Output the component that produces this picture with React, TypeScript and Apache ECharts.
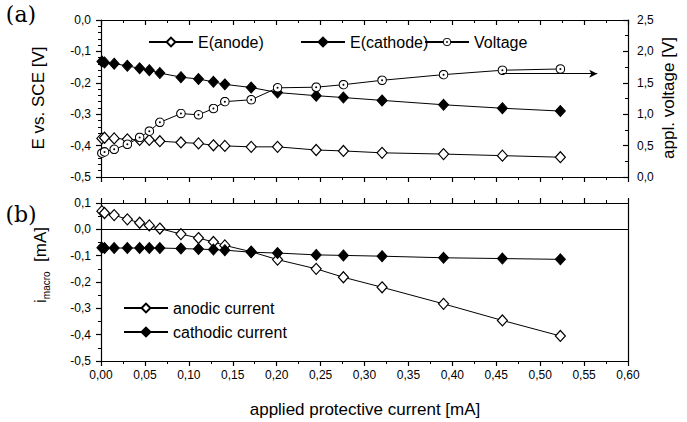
import React, { useEffect, useRef } from "react";
import * as echarts from "echarts";

// applied protective current [mA]
const current = [0.001, 0.004, 0.015, 0.030, 0.044, 0.055, 0.067, 0.091, 0.111, 0.128, 0.141, 0.171, 0.201, 0.245, 0.276, 0.320, 0.390, 0.457, 0.523];
// (a) potentials vs SCE [V]
const eAnode = [-0.377, -0.375, -0.377, -0.380, -0.382, -0.382, -0.386, -0.390, -0.393, -0.399, -0.401, -0.404, -0.404, -0.414, -0.417, -0.423, -0.427, -0.432, -0.437];
const eCathode = [-0.132, -0.135, -0.139, -0.146, -0.154, -0.160, -0.169, -0.182, -0.188, -0.197, -0.205, -0.215, -0.231, -0.241, -0.247, -0.256, -0.270, -0.281, -0.290];
// (a) applied voltage [V]
const voltage = [0.38, 0.40, 0.44, 0.52, 0.63, 0.73, 0.87, 1.01, 0.99, 1.09, 1.20, 1.23, 1.42, 1.43, 1.47, 1.54, 1.63, 1.70, 1.72];
// (b) macro currents [mA]
const anodic = [0.069, 0.062, 0.054, 0.038, 0.025, 0.015, 0.003, -0.018, -0.033, -0.048, -0.061, -0.085, -0.115, -0.150, -0.182, -0.220, -0.283, -0.346, -0.405];
const cathodic = [-0.070, -0.071, -0.071, -0.071, -0.071, -0.071, -0.071, -0.073, -0.075, -0.077, -0.079, -0.087, -0.090, -0.097, -0.099, -0.102, -0.108, -0.111, -0.114];
// arrow pointing to the voltage axis
const arrowX = [0.457, 0.565];
const arrowV = 1.645;

const FONT = "Liberation Sans";
const SERIF = "DejaVu Serif";
const comma = (d: number) => (v: number) => {
  const s = (Math.abs(v) < 1e-9 ? 0 : v).toFixed(d);
  return s.replace(".", ",");
};

const ringSvg =
  '<svg xmlns="http://www.w3.org/2000/svg" width="20" height="20" viewBox="0 0 20 20">' +
  '<circle cx="10" cy="10" r="8.6" fill="white" stroke="black" stroke-width="2.2"/>' +
  '<circle cx="10" cy="10" r="2" fill="black"/></svg>';
const ringSymbol = "image://data:image/svg+xml;utf8," + encodeURIComponent(ringSvg);

export default function App() {
  const ref = useRef<HTMLDivElement>(null);
  useEffect(() => {
    if (!ref.current) return;
    const chart = echarts.init(ref.current, undefined, { renderer: "svg" });
    const pair = (ys: number[]) => current.map((x, i) => [x, ys[i]]);
    const axLine = { show: true, onZero: false, lineStyle: { color: "#000", width: 1.2 } };
    const lbl = { color: "#000", fontFamily: FONT, fontSize: 12 };
    const xBase = (grid: number, pos: string, showLabel: boolean, inside: boolean) => ({
      type: "value", gridIndex: grid, position: pos, min: 0, max: 0.6, interval: 0.05,
      axisLine: axLine,
      axisTick: { show: true, inside, length: 5, lineStyle: { color: "#000", width: 1.2 } },
      minorTick: { show: true, splitNumber: 2, length: 3, lineStyle: { color: "#000", width: 1 } },
      axisLabel: { show: showLabel, ...lbl, margin: 8, formatter: comma(2) },
      splitLine: { show: false },
    });
    const lineS = { color: "#000", width: 1 };
    chart.setOption({
      animation: false,
      backgroundColor: "#fff",
      textStyle: { fontFamily: FONT },
      grid: [
        { left: 101, top: 20, width: 527, height: 157 },
        { left: 101, top: 203, width: 527, height: 158 },
      ],
      xAxis: [
        xBase(0, "bottom", false, false),
        xBase(0, "top", false, true),
        xBase(1, "bottom", true, false),
        xBase(1, "top", false, false),
      ],
      yAxis: [
        {
          type: "value", gridIndex: 0, position: "left", min: -0.5, max: 0, interval: 0.1,
          axisLine: axLine,
          axisTick: { show: true, inside: false, length: 5, lineStyle: { color: "#000", width: 1.2 } },
          minorTick: { show: true, splitNumber: 5, length: 3, lineStyle: { color: "#000" } },
          axisLabel: { ...lbl, margin: 10, formatter: comma(1) },
          splitLine: { show: false },
        },
        {
          type: "value", gridIndex: 0, position: "right", min: 0, max: 2.5, interval: 0.5,
          axisLine: axLine,
          axisTick: { show: true, inside: true, length: 5, lineStyle: { color: "#000", width: 1.2 } },
          minorTick: { show: true, splitNumber: 2, length: 3, lineStyle: { color: "#000" } },
          axisLabel: { ...lbl, margin: 9, formatter: comma(1) },
          splitLine: { show: false },
        },
        {
          type: "value", gridIndex: 1, position: "left", min: -0.5, max: 0.1, interval: 0.1,
          axisLine: axLine,
          axisTick: { show: true, inside: false, length: 5, lineStyle: { color: "#000", width: 1.2 } },
          minorTick: { show: true, splitNumber: 2, length: 3, lineStyle: { color: "#000" } },
          axisLabel: { ...lbl, margin: 10, formatter: comma(1) },
          splitLine: { show: false },
        },
        {
          type: "value", gridIndex: 1, position: "right", min: -0.5, max: 0.1, interval: 0.1,
          axisLine: axLine, axisTick: { show: false }, axisLabel: { show: false },
          splitLine: { show: false },
        },
      ],
      legend: [
        { data: ["E(anode)"], left: 148, top: 34 },
        { data: ["E(cathode)"], left: 300, top: 34 },
        { data: ["Voltage"], left: 424, top: 34 },
        { data: ["anodic current", "cathodic current"], left: 123, top: 300, orient: "vertical", itemGap: 8 },
      ].map((l) => ({
        ...l, padding: 0, itemWidth: 44, itemHeight: 11, selectedMode: false,
        textStyle: { color: "#000", fontFamily: FONT, fontSize: 16 },
      })),
      series: [
        {
          name: "E(anode)", type: "line", xAxisIndex: 0, yAxisIndex: 0, data: pair(eAnode),
          symbol: "diamond", symbolSize: [10, 11], lineStyle: lineS,
          itemStyle: { color: "#fff", borderColor: "#000", borderWidth: 1.2 },
        },
        {
          name: "E(cathode)", type: "line", xAxisIndex: 0, yAxisIndex: 0, data: pair(eCathode),
          symbol: "diamond", symbolSize: [10, 11], lineStyle: lineS,
          itemStyle: { color: "#000", borderColor: "#000", borderWidth: 1 },
        },
        {
          name: "Voltage", type: "line", xAxisIndex: 0, yAxisIndex: 1, data: pair(voltage),
          symbol: ringSymbol, symbolSize: 10, lineStyle: lineS,
          itemStyle: { color: "#000" },
          markLine: {
            silent: true, animation: false,
            symbol: ["none", "arrow"], symbolSize: [6, 8],
            label: { show: false },
            lineStyle: { color: "#000", width: 1, type: "solid" },
            data: [[{ coord: [arrowX[0], arrowV] }, { coord: [arrowX[1], arrowV] }]],
          },
        },
        {
          name: "anodic current", type: "line", xAxisIndex: 2, yAxisIndex: 2, data: pair(anodic),
          symbol: "diamond", symbolSize: [10, 11], lineStyle: lineS,
          itemStyle: { color: "#fff", borderColor: "#000", borderWidth: 1.2 },
          markLine: {
            silent: true, animation: false, symbol: ["none", "none"],
            label: { show: false },
            lineStyle: { color: "#000", width: 1.2, type: "solid" },
            data: [{ yAxis: 0 }],
          },
        },
        {
          name: "cathodic current", type: "line", xAxisIndex: 2, yAxisIndex: 2, data: pair(cathodic),
          symbol: "diamond", symbolSize: [10, 11], lineStyle: lineS,
          itemStyle: { color: "#000", borderColor: "#000", borderWidth: 1 },
        },
      ],
      graphic: [
        { type: "text", x: 21, y: 14, style: { text: "(a)", fontFamily: SERIF, fontSize: 22, fill: "#000", align: "center", verticalAlign: "middle" } },
        { type: "text", x: 21, y: 214, style: { text: "(b)", fontFamily: SERIF, fontSize: 22, fill: "#000", align: "center", verticalAlign: "middle" } },
        { type: "text", x: 38, y: 98, rotation: Math.PI / 2, style: { text: "E vs. SCE [V]", font: "17px Liberation Sans", fill: "#000", align: "center", verticalAlign: "middle" } },
        { type: "text", x: 668, y: 98, rotation: Math.PI / 2, style: { text: "appl. voltage [V]", font: "17px Liberation Sans", fill: "#000", align: "center", verticalAlign: "middle" } },
        {
          type: "text", x: 40, y: 265, rotation: Math.PI / 2,
          style: {
            text: "{i|i}{s|macro}{n|  [mA]}", fill: "#000", align: "center", verticalAlign: "middle",
            rich: {
              i: { fontFamily: FONT, fontSize: 17, lineHeight: 22, verticalAlign: "middle" },
              s: { fontFamily: FONT, fontSize: 10, lineHeight: 22, verticalAlign: "bottom" },
              n: { fontFamily: FONT, fontSize: 17, lineHeight: 22, verticalAlign: "middle" },
            },
          },
        },
        { type: "text", x: 365, y: 409, style: { text: "applied protective current [mA]", font: "17px Liberation Sans", fill: "#000", align: "center", verticalAlign: "middle" } },
      ],
    });
    return () => chart.dispose();
  }, []);
  return <div ref={ref} style={{ position: "fixed", left: 0, top: 0, width: 687, height: 422 }} />;
}
